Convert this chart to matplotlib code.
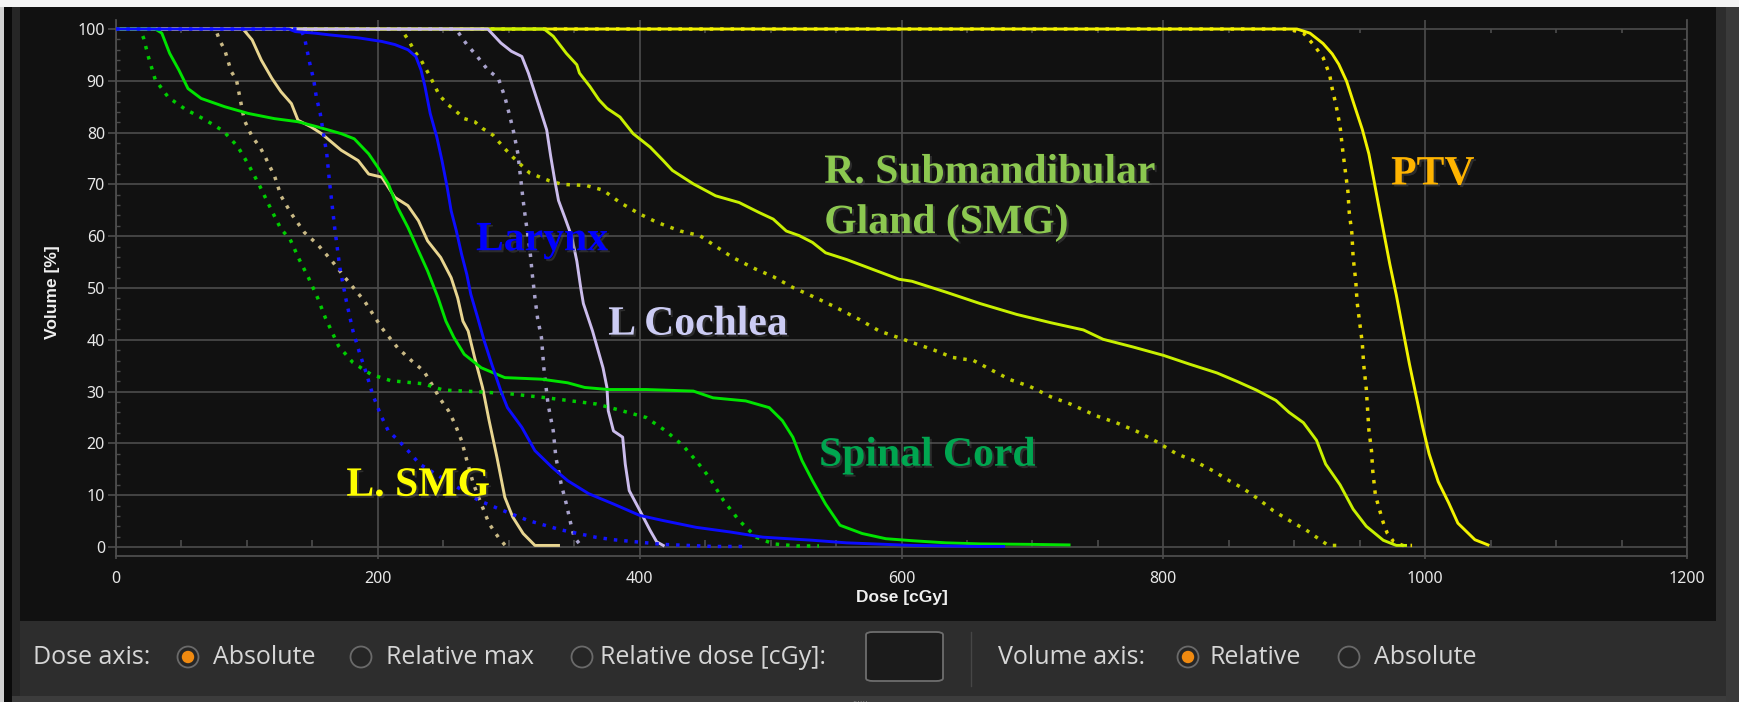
import numpy as np
import matplotlib
matplotlib.use("Agg")
import matplotlib.pyplot as plt
from matplotlib.patches import Rectangle, Circle, FancyBboxPatch
from matplotlib.ticker import MultipleLocator
import matplotlib.patheffects as pe

# ---------------- data (dose in cGy, volume in %) ----------------
ptv_dose = [0, 902, 912, 922, 929, 934, 940, 946, 952, 957, 961, 965, 969, 973, 978, 983, 988, 993, 998, 1003, 1010, 1018, 1025, 1038, 1048]
ptv_vol = [100, 100, 99.2, 97.2, 95.2, 93.2, 89.9, 85.2, 80.6, 75.9, 70.6, 65.2, 59.9, 54.6, 48.6, 41.9, 35.3, 29.3, 23.3, 18, 12.6, 8.5, 4.6, 1.4, 0.4]

ptv2_dose = [0, 896, 907, 915, 922, 927, 929, 932, 935, 937, 939, 941, 942, 944, 945, 947, 948, 950, 952, 953, 955, 956, 957, 959, 960, 962, 965, 968, 971, 976, 983, 990]
ptv2_vol = [100, 100, 99.2, 96.9, 94.5, 91.2, 88.5, 85.2, 81.2, 76.6, 72.6, 68.6, 64.6, 60.6, 55.9, 51.3, 47.3, 43.3, 39.3, 35.3, 30.6, 26.6, 22.6, 18.6, 14.6, 10, 7.3, 4.7, 2.7, 1, 0.3, 0.3]

rsmg_dose = [0, 327, 334, 344, 352, 354, 362, 369, 375, 385, 395, 408, 418, 425, 441, 458, 476, 491, 502, 512, 522, 532, 542, 558, 578, 598, 608, 634, 660, 688, 714, 739, 754, 777, 800, 820, 841, 856, 871, 886, 896, 907, 917, 924, 935, 945, 955, 968, 978, 985]
rsmg_vol = [100, 100, 98.6, 95.3, 93.1, 91.5, 88.9, 86.3, 84.7, 83, 79.8, 77.2, 74.6, 72.7, 70.1, 67.8, 66.5, 64.6, 63.3, 61, 60.1, 58.8, 56.8, 55.5, 53.6, 51.7, 51.3, 49.2, 47, 44.9, 43.3, 41.9, 40.1, 38.6, 37, 35.3, 33.6, 32, 30.3, 28.3, 26, 24, 20.6, 16, 12, 7.3, 4, 1.3, 0.3, 0.3]

rsmg2_dose = [0, 215, 218, 224, 228, 233, 240, 247, 254, 259, 266, 274, 280, 288, 297, 303, 316, 331, 341, 359, 372, 385, 400, 413, 431, 446, 456, 471, 489, 502, 517, 532, 548, 568, 583, 598, 609, 624, 639, 655, 670, 683, 698, 714, 729, 749, 764, 780, 795, 810, 823, 838, 851, 861, 874, 884, 899, 909, 918, 926, 933]
rsmg2_vol = [100, 100, 99.9, 97.6, 95.7, 94, 90.8, 87.2, 85.3, 84.3, 82.7, 82.1, 80.8, 79.5, 76.9, 75.3, 72.2, 70.7, 70, 69.8, 68.9, 66.5, 64.3, 62.7, 61, 60.1, 58.4, 55.9, 53.6, 52.2, 50.1, 48.4, 46.5, 43.9, 41.7, 40.4, 39.4, 38.1, 36.6, 36, 34, 32.3, 31, 29, 27.6, 25.3, 24, 22.3, 20.3, 18, 16.7, 14.7, 12.7, 11.3, 9, 7, 4.7, 3.3, 1.7, 0.3, 0.3]

lar_dose = [0, 132, 137, 152, 162, 185, 203, 213, 223, 229, 233, 236, 240, 245, 249, 253, 256, 260, 264, 268, 271, 276, 281, 287, 294, 299, 310, 320, 333, 345, 361, 380, 400, 418, 443, 469, 494, 532, 558, 609, 660, 678]
lar_vol = [100, 100, 99.5, 99.2, 98.9, 98.3, 97.6, 97, 96, 94.7, 92.1, 88.9, 83.7, 79.2, 74.6, 69.4, 64.9, 61, 56.5, 52.6, 48.8, 44.5, 40, 35.3, 30.1, 26.9, 23.1, 18.6, 15.4, 12.8, 10.3, 8.3, 6.1, 5.1, 3.8, 2.9, 1.9, 1.3, 0.8, 0.3, 0.1, 0.1]

lar2_dose = [0, 141, 144, 148, 151, 153, 156, 158, 161, 163, 165, 167, 169, 171, 174, 176, 181, 186, 191, 196, 202, 208, 216, 223, 232, 246, 261, 277, 294, 315, 340, 366, 380, 418, 456, 481]
lar2_vol = [100, 100, 98.3, 93.4, 90.2, 86.9, 83.7, 80.5, 75.9, 70.7, 66.2, 61.7, 57.8, 53.9, 50, 47.4, 41.7, 37.5, 33.7, 29.5, 25.6, 22.4, 20.5, 18.6, 16, 13.8, 11.5, 9, 7.2, 5.1, 3.3, 1.9, 1.4, 0.5, 0.1, 0.1]

coch_dose = [0, 284, 294, 302, 310, 315, 320, 325, 329, 332, 335, 338, 343, 348, 352, 355, 357, 364, 372, 375, 376, 380, 387, 389, 392, 400, 408, 413, 418]
coch_vol = [100, 100, 97.3, 95.7, 94.7, 91.5, 87.6, 83.7, 80.5, 75.5, 71, 66.9, 63.5, 60, 55.2, 50, 47, 41.7, 34.6, 30.8, 26.3, 22.4, 21.2, 16, 10.9, 7.1, 3.2, 1, 0.3]

coch2_dose = [0, 258, 261, 268, 275, 284, 292, 297, 301, 304, 307, 309, 311, 313, 316, 318, 320, 322, 325, 327, 330, 334, 336, 340, 344, 348, 350, 355]
coch2_vol = [100, 100, 99.5, 97, 95, 92.1, 90.5, 86.9, 83, 79.8, 75.9, 71.4, 66.9, 63, 57.8, 52.6, 48.1, 44.2, 40.4, 34, 27.6, 22.4, 17.3, 12.2, 8.3, 3.8, 1.9, 0.3]

cord_dose = [0, 30, 35, 41, 48, 55, 65, 83, 101, 121, 139, 154, 172, 182, 193, 200, 208, 215, 223, 231, 238, 246, 252, 258, 266, 279, 297, 325, 345, 358, 376, 405, 441, 456, 481, 499, 509, 517, 524, 532, 542, 553, 570, 588, 609, 634, 660, 700, 728]
cord_vol = [100, 100, 99.2, 95.3, 92.1, 88.5, 86.6, 85, 83.7, 82.7, 82.1, 81.1, 79.8, 78.8, 75.9, 73.3, 70.1, 65.6, 61.7, 57.2, 53.3, 48.1, 43.6, 40.5, 37.2, 34.6, 32.7, 32.4, 31.7, 30.8, 30.4, 30.4, 30.1, 28.8, 28.2, 26.9, 24.4, 21.2, 16.7, 12.8, 8.3, 4.2, 2.6, 1.6, 1.2, 0.8, 0.6, 0.5, 0.4]

cord2_dose = [0, 18, 21, 25, 30, 40, 53, 68, 82, 93, 101, 109, 119, 126, 133, 140, 147, 154, 160, 170, 181, 195, 210, 235, 250, 274, 300, 329, 367, 385, 405, 420, 433, 443, 453, 464, 476, 489, 502, 520, 537]
cord2_vol = [100, 100, 98.3, 94.4, 90.2, 86.8, 84.5, 82.5, 80.3, 77.3, 73.9, 70.1, 64.9, 61.4, 59.4, 55.5, 52, 48.1, 44.2, 38.8, 35.6, 33.3, 32.1, 31.5, 30.3, 30, 29.6, 28.8, 27.6, 26.4, 25, 22.4, 19.6, 16.7, 13.5, 9, 5.1, 1.9, 0.6, 0.2, 0.2]

lsmg_dose = [0, 97, 104, 111, 119, 126, 134, 139, 149, 157, 172, 185, 193, 203, 213, 223, 231, 238, 248, 256, 261, 265, 269, 274, 280, 285, 291, 297, 303, 311, 320, 338]
lsmg_vol = [100, 100, 97.9, 94, 90.5, 87.9, 85.6, 82.4, 81.1, 79.8, 76.6, 74.6, 72, 71.4, 67.5, 65.9, 63, 59.1, 55.9, 52, 48.1, 43.6, 41.7, 36.5, 30.8, 24.4, 17.3, 9.6, 5.8, 2.6, 0.3, 0.3]

lsmg2_dose = [0, 76, 79, 83, 88, 92, 95, 98, 104, 110, 114, 117, 121, 126, 134, 144, 154, 165, 175, 190, 203, 215, 226, 235, 242, 247, 254, 259, 264, 268, 273, 279, 285, 292, 298]
lsmg2_vol = [100, 100, 97.9, 96, 91.8, 90.2, 86.3, 82.4, 79.2, 77.2, 75.3, 73.7, 71.7, 67.8, 64.3, 60.7, 58.4, 55.2, 52, 47.4, 42.3, 38.5, 35.9, 34, 31.1, 28.8, 26.3, 23.7, 20.5, 16.7, 12.2, 8.3, 4.5, 1.9, 0.1]

x_ticks = [0, 200, 400, 600, 800, 1000, 1200]
y_ticks = [0, 10, 20, 30, 40, 50, 60, 70, 80, 90, 100]

labels = ["PTV", "R. Submandibular", "Gland (SMG)", "Larynx", "L Cochlea", "Spinal Cord", "L. SMG"]

# ---------------- figure ----------------
W, H = 1739, 702
fig = plt.figure(figsize=(W / 100, H / 100), dpi=100)
fig.patch.set_facecolor("#2d2d2d")

def fx(px):
    return px / W

def fy(py):
    return 1 - py / H

def rect(x0, y0, x1, y1, color, z=-10):
    fig.patches.append(Rectangle((fx(x0), fy(y1)), fx(x1) - fx(x0), fy(y0) - fy(y1),
                                 transform=fig.transFigure, facecolor=color,
                                 edgecolor="none", zorder=z))

# frame pieces
rect(0, 0, W, 7, "#f4f4f4")
rect(0, 7, 4, H, "#cfcfcf")
rect(4, 7, 12, H, "#0a0a0a")
rect(12, 7, 20, H, "#262626")
rect(1726, 7, W, H, "#3a3a3a")
rect(20, 7, 1716, 621, "#111111")
rect(12, 696, 1726, H, "#3c3c3c")

# ---------------- axes ----------------
ax = fig.add_axes([fx(116), fy(556), fx(1687) - fx(116), fy(20) - fy(556)])
ax.set_zorder(2)
ax.set_facecolor("#111111")
ax.set_xlim(0, 1200)
ax.set_ylim(-1.74, 101.74)

grid_c = "#4c4c4c"
for s in ["left", "right", "bottom"]:
    ax.spines[s].set_color(grid_c)
    ax.spines[s].set_linewidth(1.3)
ax.spines["top"].set_visible(False)

ax.set_xticks(x_ticks)
ax.set_yticks(y_ticks)
ax.yaxis.set_minor_locator(MultipleLocator(2))
ax.grid(True, which="major", color=grid_c, linewidth=1.2, zorder=0)
ax.set_axisbelow(True)
ax.yaxis.set_ticks_position("both")
ax.tick_params(axis="y", which="major", direction="out", length=6, width=1.2,
               color=grid_c, right=False, pad=2)
ax.tick_params(axis="y", which="minor", direction="in", length=3, width=1,
               color=grid_c, left=True, right=True)
ax.tick_params(axis="x", which="major", direction="out", length=2, width=1.2,
               color=grid_c, pad=9)
for lab in ax.get_xticklabels() + ax.get_yticklabels():
    lab.set_fontfamily(["Noto Sans", "DejaVu Sans"])
    lab.set_fontsize(11.5)
    lab.set_color("#e8e8e8")

# minor dose ticks drawn on the 0 % and 100 % lines
minor_x = [v for v in range(50, 1200, 50) if v % 200 != 0]
ax.vlines(minor_x, 0, 1.4, colors=grid_c, linewidth=1.2, zorder=1)
ax.vlines(minor_x, 99.2, 100, colors=grid_c, linewidth=1.2, zorder=1)

ax.set_xlabel("Dose [cGy]", fontsize=12.5, fontweight="bold", color="#f0f0f0",
              family=["Liberation Sans", "DejaVu Sans"], labelpad=2)
fig.text(fx(52), fy(292), "Volume [%]", rotation=90, ha="center", va="center",
         fontsize=12.5, fontweight="bold", color="#f0f0f0",
         family=["Liberation Sans", "DejaVu Sans"])

# ---------------- curves ----------------
lw = 2.1
dlw = 2.5
dot = (0, (1, 2.0))
ax.plot(ptv2_dose, ptv2_vol, color="#e6d800", lw=dlw, ls=dot, zorder=3)
ax.plot(ptv_dose, ptv_vol, color="#f2f200", lw=lw, zorder=3)
ax.plot(rsmg2_dose, rsmg2_vol, color="#bccc00", lw=dlw, ls=dot, zorder=4)
ax.plot(rsmg_dose, rsmg_vol, color="#c8f000", lw=lw, zorder=4)
ax.plot(coch2_dose, coch2_vol, color="#a8a2cc", lw=dlw, ls=dot, zorder=5)
ax.plot(coch_dose, coch_vol, color="#cbbcec", lw=lw, zorder=5)
ax.plot(lsmg2_dose, lsmg2_vol, color="#c9b985", lw=dlw, ls=dot, zorder=6)
ax.plot(lsmg_dose, lsmg_vol, color="#e8d590", lw=lw, zorder=6)
ax.plot(cord2_dose, cord2_vol, color="#00cc00", lw=dlw, ls=dot, zorder=7)
ax.plot(cord_dose, cord_vol, color="#00e400", lw=lw, zorder=7)
ax.plot(lar2_dose, lar2_vol, color="#1414ff", lw=dlw, ls=dot, zorder=8)
ax.plot(lar_dose, lar_vol, color="#0c0cff", lw=lw, zorder=8)

# ---------------- annotations ----------------
shadow = [pe.SimplePatchShadow(offset=(1.5, -1.5), shadow_rgbFace="#555555", alpha=0.4), pe.Normal()]
ann = dict(family=["Liberation Serif", "DejaVu Serif"], fontweight="bold", fontsize=30,
           ha="left", va="baseline", zorder=10, path_effects=shadow)
ax.text(974, 70.0, labels[0], color="#ffb400", **ann)
ax.text(541, 70.3, labels[1], color="#8cc850", **ann)
ax.text(541, 60.6, labels[2], color="#8cc850", **ann)
ax.text(275, 57.3, labels[3], color="#0000ff", **ann)
ax.text(376, 41.0, labels[4], color="#ccccf4", **ann)
ax.text(537, 15.7, labels[5], color="#00a650", **ann)
ax.text(176, 9.9, labels[6], color="#ffff00", **ann)

# ---------------- control bar ----------------
ui = dict(family=["Open Sans", "Noto Sans", "DejaVu Sans"], fontsize=18, color="#d6d6d6",
          ha="left", va="center")
ty = 657
fig.text(fx(33), fy(ty), "Dose axis:", **ui)
fig.text(fx(213), fy(ty), "Absolute", **ui)
fig.text(fx(386), fy(ty), "Relative max", **ui)
fig.text(fx(600), fy(ty), "Relative dose [cGy]:", **ui)
fig.text(fx(998), fy(ty), "Volume axis:", **ui)
fig.text(fx(1210), fy(ty), "Relative", **ui)
fig.text(fx(1374), fy(ty), "Absolute", **ui)

def radio(px, py, selected):
    c = (px / 100, (H - py) / 100)
    fig.patches.append(Circle(c, 10.5 / 100, transform=fig.dpi_scale_trans,
                              facecolor="#262626", edgecolor="#6a6a6a", linewidth=1.3, zorder=3))
    if selected:
        fig.patches.append(Circle(c, 6.2 / 100, transform=fig.dpi_scale_trans,
                                  facecolor="#f08a10", edgecolor="none", zorder=4))

radio(188, ty, True)
radio(361, ty, False)
radio(582, ty, False)
radio(1188, ty, True)
radio(1349, ty, False)

box = FancyBboxPatch((fx(866), fy(681)), fx(943) - fx(866), fy(632) - fy(681),
                     boxstyle="round,pad=0,rounding_size=0.004", transform=fig.transFigure,
                     facecolor="#1b1b1b", edgecolor="#6e6e6e", linewidth=1.3, zorder=3)
fig.patches.append(box)
fig.lines.append(plt.Line2D([fx(971), fx(971)], [fy(632), fy(686)], transform=fig.transFigure,
                            color="#464646", linewidth=1))
fig.text(fx(860), fy(699), "......", fontsize=6, color="#9a9a9a", ha="center", va="center")

fig.savefig("out.png", dpi=100, facecolor=fig.get_facecolor())
